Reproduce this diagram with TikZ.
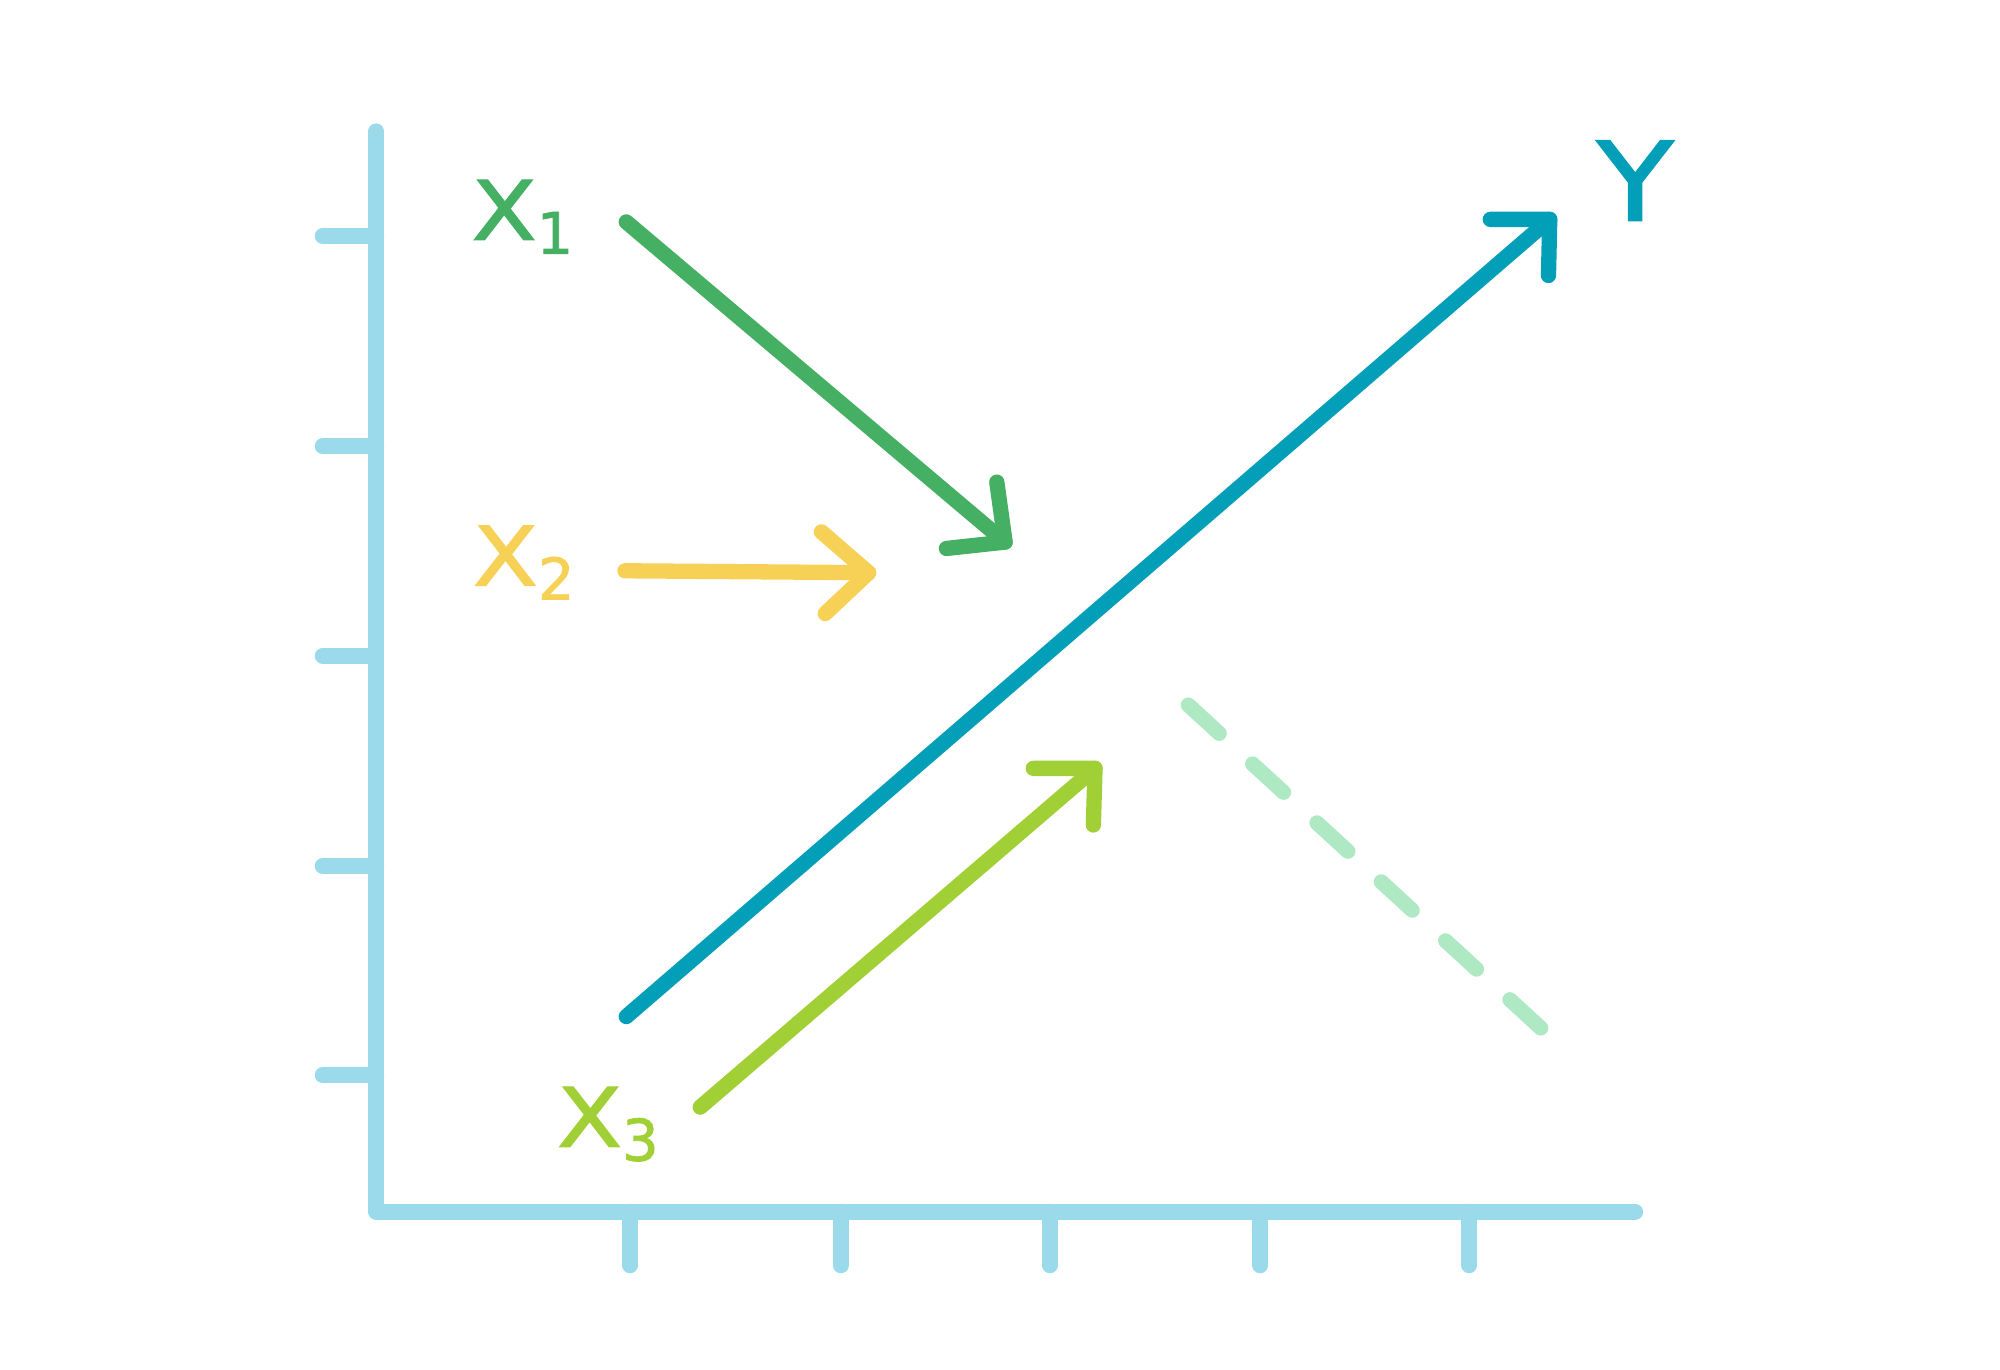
\documentclass[tikz,border=0pt]{standalone}
\usepackage{fontspec}
\setmainfont{DejaVu Sans}
\newfontfamily\labelfont{DejaVu Sans}[FakeBold=1.4]
\usetikzlibrary{arrows.meta}

\definecolor{axisblue}{HTML}{9BDAEA}
\definecolor{xonegreen}{HTML}{45B063}
\definecolor{xtwoyellow}{HTML}{F6D155}
\definecolor{xthreelime}{HTML}{A0D035}
\definecolor{yteal}{HTML}{039EB7}
\definecolor{dashmint}{HTML}{AEE9C4}

\newcommand{\lowidx}[1]{\raisebox{-0.11cm}{\fontsize{12.8}{15}\selectfont #1}}

\begin{document}
\begin{tikzpicture}[x=0.1mm, y=-0.1mm,
  axis/.style={axisblue, line width=0.125cm, line cap=round, line join=round},
  effect/.style={line width=0.12cm, line cap=round, line join=round},
  lbl/.style={anchor=base west, inner sep=0pt, font=\labelfont\fontsize{18.3}{22}\selectfont}]

\useasboundingbox (0,0) rectangle (1568,1074);

% axes
\draw[axis] (295,103) -- (295,950) -- (1282,950);

% ticks
\foreach \ty in {185,350,514,679,843}
  \draw[axis] (253,\ty) -- (295,\ty);
\foreach \tx in {494,659,823,988,1152}
  \draw[axis] (\tx,950) -- (\tx,992);

% variable labels
\node[lbl, xonegreen] (Xone) at (369,188) {\scalebox{1.16}[1]{X}\lowidx{1}};
\node[lbl, xtwoyellow] (Xtwo) at (370,459) {\scalebox{1.16}[1]{X}\lowidx{2}};
\node[lbl, xthreelime] (Xthree) at (436,899) {\scalebox{1.16}[1]{X}\lowidx{3}};
\node[lbl, yteal, font=\labelfont\fontsize{24.5}{30}\selectfont] (Yout) at (1251,173) {\scalebox{1.15}[1]{Y}};

% arrow end points
\coordinate (xoneA) at (491,174);
\coordinate (xoneB) at (788,425);
\coordinate (xtwoA) at (490,447.5);
\coordinate (xtwoB) at (681,449);
\coordinate (xthreeA) at (549,868);
\coordinate (xthreeB) at (858.5,602.4);
\coordinate (youtA) at (491,797);
\coordinate (youtB) at (1215,172);
\coordinate (dashA) at (931.6,552.7);
\coordinate (dashB) at (1208,806);

% effects on Y (shaft, then head)
\draw[effect, xonegreen] (xoneA) -- (xoneB);
\draw[effect, xonegreen] (xoneB) ++(-6.5,-47) -- (xoneB) -- ++(-46,5);

\draw[effect, xtwoyellow] (xtwoA) -- (xtwoB);
\draw[effect, xtwoyellow] (xtwoB) ++(-37,-32) -- (xtwoB) -- ++(-34,32);

\draw[effect, xthreelime] (xthreeA) -- (xthreeB);
\draw[effect, xthreelime] (xthreeB) ++(-48.4,0) -- (xthreeB) -- ++(-1.3,44.4);

\draw[effect, yteal] (youtA) -- (youtB);
\draw[effect, yteal] (youtB) ++(-46.6,0) -- (youtB) -- ++(-1,44);

% dashed trend
\draw[dashmint, line width=0.118cm, line cap=round,
  dash pattern=on 0.33cm off 0.354cm] (dashA) -- (dashB);

\end{tikzpicture}
\end{document}
